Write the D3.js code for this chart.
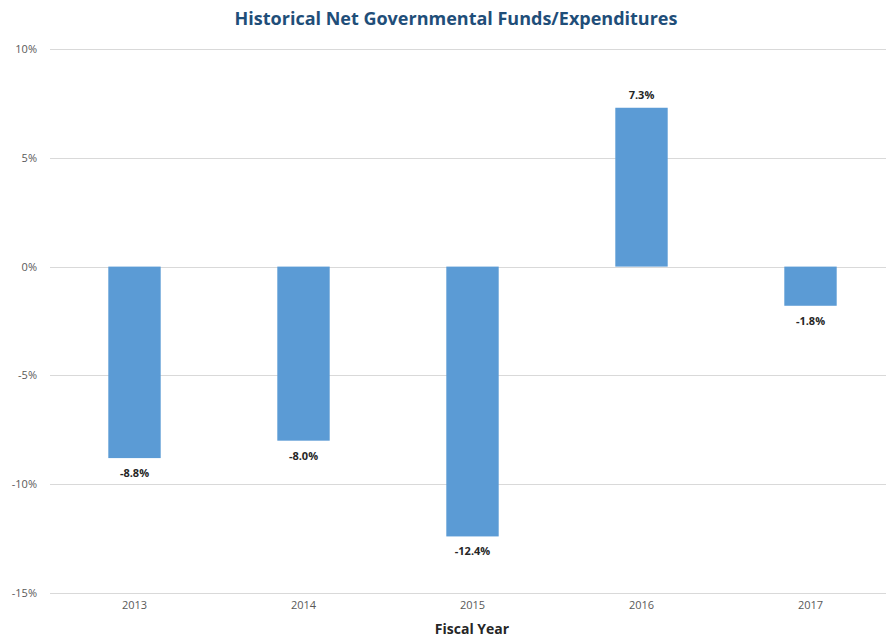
<!DOCTYPE html>
<html>
<head>
<meta charset="utf-8">
<script src="https://cdn.jsdelivr.net/npm/d3@7"></script>
<style>
  html, body { margin: 0; padding: 0; background: #fff; overflow: hidden; }
  svg { display: block; font-family: "Open Sans", "Liberation Sans", sans-serif; }
</style>
</head>
<body>
<svg id="chart" width="886" height="639"></svg>
<script>
// Fiscal years and net governmental funds as a share of expenditures (%)
const years = ["2013", "2014", "2015", "2016", "2017"];
const values = [-8.8, -8.0, -12.4, 7.3, -1.8];
const yTicks = [-15, -10, -5, 0, 5, 10];

const svg = d3.select("#chart");
const margin = { left: 50, right: -9, top: 49, bottom: 46 };
const W = 886, H = 639;

const x = d3.scaleBand()
  .domain(years)
  .range([margin.left, W - margin.right])
  .paddingInner(0.69)
  .paddingOuter(0.345);

const y = d3.scaleLinear()
  .domain([-15, 10])
  .range([H - margin.bottom, margin.top]);

// Horizontal gridlines
svg.append("g")
  .selectAll("line")
  .data(yTicks)
  .join("line")
  .attr("x1", margin.left)
  .attr("x2", W)
  .attr("y1", d => Math.round(y(d)) + 0.5)
  .attr("y2", d => Math.round(y(d)) + 0.5)
  .attr("stroke", "#d9d9d9")
  .attr("stroke-width", 1);

// Y axis labels
const yAxis = d3.axisLeft(y).tickValues(yTicks).tickFormat(d => d + "%").tickSize(0).tickPadding(0);
svg.append("g")
  .attr("transform", `translate(${margin.left - 13},0)`)
  .call(yAxis)
  .call(g => g.select(".domain").remove())
  .call(g => g.selectAll("text")
    .attr("fill", "#595959")
    .attr("font-size", "11px")
    .attr("font-family", "'Open Sans', 'Liberation Sans', sans-serif"));

// X axis labels
const xAxis = d3.axisBottom(x).tickSize(0).tickPadding(0);
svg.append("g")
  .attr("transform", `translate(0,${y(-15) + 8})`)
  .call(xAxis)
  .call(g => g.select(".domain").remove())
  .call(g => g.selectAll("text")
    .attr("fill", "#595959")
    .attr("font-size", "11px")
    .attr("font-family", "'Open Sans', 'Liberation Sans', sans-serif"));

// Bars
const data = years.map((yr, i) => ({ year: yr, value: values[i] }));
svg.append("g")
  .selectAll("rect")
  .data(data)
  .join("rect")
  .attr("x", d => x(d.year))
  .attr("width", x.bandwidth())
  .attr("y", d => y(Math.max(0, d.value)))
  .attr("height", d => Math.abs(y(d.value) - y(0)))
  .attr("fill", "#5b9bd5");

// Value labels
svg.append("g")
  .selectAll("text")
  .data(data)
  .join("text")
  .attr("x", d => x(d.year) + x.bandwidth() / 2)
  .attr("y", d => d.value >= 0 ? y(d.value) - 9 : y(d.value) + 19)
  .attr("text-anchor", "middle")
  .attr("font-size", "11px")
  .attr("font-weight", "bold")
  .attr("fill", "#262626")
  .text(d => d.value.toFixed(1) + "%");

// Title
svg.append("text")
  .attr("x", 456)
  .attr("y", 25)
  .attr("text-anchor", "middle")
  .attr("font-size", "18px")
  .attr("font-weight", "bold")
  .attr("fill", "#1f4e79")
  .text("Historical Net Governmental Funds/Expenditures");

// X axis title
svg.append("text")
  .attr("x", 472)
  .attr("y", 634)
  .attr("text-anchor", "middle")
  .attr("font-size", "14px")
  .attr("font-weight", "bold")
  .attr("fill", "#262626")
  .text("Fiscal Year");
</script>
</body>
</html>
